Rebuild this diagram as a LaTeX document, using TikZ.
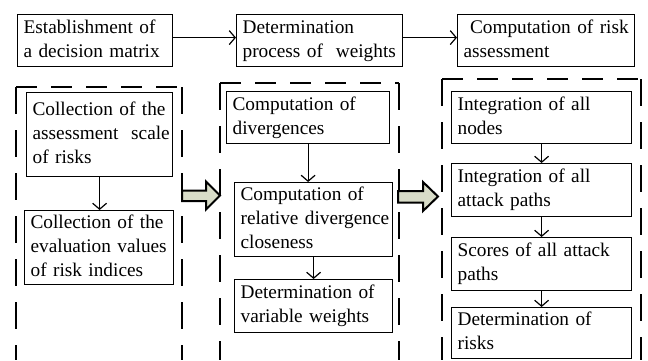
\documentclass[tikz,border=0pt]{standalone}
\usepackage{fontspec}
\setmainfont{Liberation Serif}
\usetikzlibrary{arrows.meta}
\definecolor{blockfill}{RGB}{216,220,200}
\tikzset{
  box/.style={draw, line width=1.2pt, inner xsep=6pt, inner ysep=1pt,
    font=\fontsize{19.3}{24}\selectfont, anchor=north west},
  flow/.style={line width=1.2pt, -{Straight Barb[length=6pt,width=14pt,line width=1.2pt]}},
  grouptop/.style={line width=1.6pt, dash pattern=on 21pt off 14pt},
  groupside/.style={line width=1.6pt, dash pattern=on 27pt off 16pt},
  blockarrow/.style={draw, line width=2pt, fill=blockfill, line join=miter}
}
% box with given corners (x1,y1) (x2,y2); y grows downwards; lines kept as written
\newcommand\boxnode[6]{%
  \pgfmathsetmacro\bxh{#5-#3}%
  \pgfmathsetmacro\bxtw{#4-#2-12}%
  \node[box, text width=\bxtw pt, minimum height=\bxh pt] (#1) at (#2,#3)
    {\begin{tabular}{@{}l@{}}#6\end{tabular}};}
% dashed group frame open at the bottom: left x, right x, top y
\newcommand\groupframe[3]{%
  \draw[grouptop] (#1,#3) -- (#2,#3);
  \draw[groupside] (#1,#3) -- (#1,360);
  \draw[groupside] (#2,#3) -- (#2,360);}
\begin{document}
\begin{tikzpicture}[x=1pt,y=-1pt]
\useasboundingbox (0,0) rectangle (648,360);

% top row
\boxnode{b1}{17}{14}{172}{66}{Establishment of\\a decision matrix}
\boxnode{b2}{236}{14}{402}{66}{Determination\\process of\ \ weights}
\boxnode{b3}{457}{14}{634}{66}{\ Computation of risk\\assessment}
\draw[flow] ([yshift=3pt]b1.east) -- ([yshift=3pt]b2.west);
\draw[flow] ([yshift=3pt]b2.east) -- ([yshift=3pt]b3.west);

% dashed groups
\groupframe{16}{182}{87}
\groupframe{220}{399}{83}
\groupframe{442}{641}{79}

% left group
\boxnode{l1}{26}{92}{172}{176}{Collection of the\\assessment\ \ scale\\of risks}
\boxnode{l2}{24}{210}{173}{280}{Collection of the\\evaluation values\\of risk indices}
\draw[flow] (l1.south) -- (l1.south |- l2.north);

% middle group
\boxnode{m1}{226}{91}{389}{143}{Computation of\\divergences}
\boxnode{m2}{234}{182}{392}{252}{Computation of\\relative divergence\\closeness}
\boxnode{m3}{234}{279}{392}{332}{Determination of\\variable weights}
\draw[flow] (m1.south) -- (m1.south |- m2.north);
\draw[flow] (m2.south) -- (m2.south |- m3.north);

% right group
\boxnode{r1}{451}{91}{631}{143}{Integration of all\\nodes}
\boxnode{r2}{451}{163}{631}{216}{Integration of all\\attack paths}
\boxnode{r3}{451}{237}{631}{290}{Scores of all attack\\paths}
\boxnode{r4}{451}{307}{631}{358}{Determination of\\risks}
\draw[flow] (r1.south) -- (r2.north);
\draw[flow] (r2.south) -- (r3.north);
\draw[flow] (r3.south) -- (r4.north);

% block arrows between the groups
\draw[blockarrow] (182,190.5) -- (206,190.5) -- (206,181.5) -- (220,195.5)
  -- (206,209.5) -- (206,201) -- (182,201) -- cycle;
\draw[blockarrow] (398,191) -- (423,191) -- (423,182) -- (438,196.5)
  -- (423,211) -- (423,202.5) -- (398,202.5) -- cycle;
\end{tikzpicture}
\end{document}
